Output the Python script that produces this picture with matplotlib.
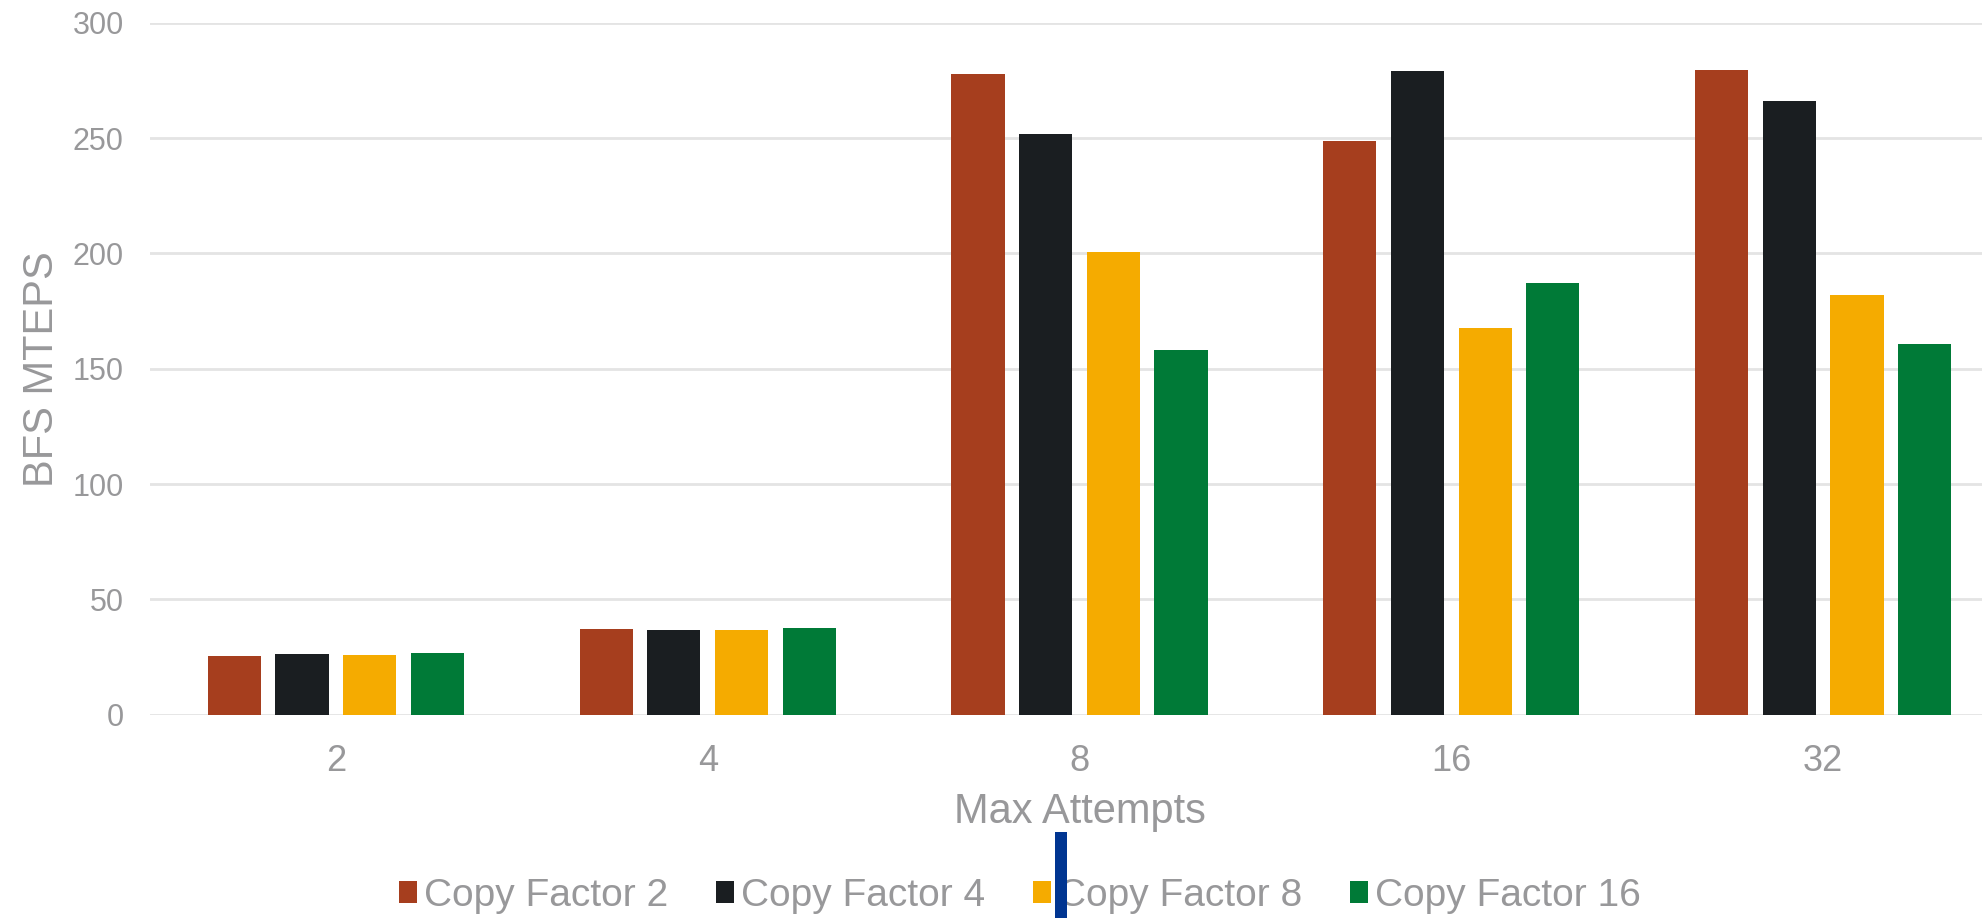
import matplotlib
matplotlib.use("Agg")
import matplotlib.pyplot as plt
from matplotlib.patches import Patch, Rectangle
import numpy as np

plt.rcParams['font.family'] = ['Liberation Sans', 'DejaVu Sans']

# Data
max_attempts = ["2", "4", "8", "16", "32"]
series_names = ["Copy Factor 2", "Copy Factor 4", "Copy Factor 8", "Copy Factor 16"]
cf2 = [25.4, 37.2, 278.0, 248.8, 279.4]
cf4 = [26.3, 36.8, 251.9, 279.3, 266.2]
cf8 = [26.0, 36.5, 200.6, 167.8, 181.9]
cf16 = [26.5, 37.4, 158.1, 187.2, 160.9]
y_ticks = [0, 50, 100, 150, 200, 250, 300]

series = [cf2, cf4, cf8, cf16]
colors = ["#A63E1E", "#1A1E21", "#F5AB00", "#007A37"]
text_gray = "#98989A"
grid_gray = "#E4E4E4"

W, H = 1983, 918
fig = plt.figure(figsize=(W / 100, H / 100), dpi=100)
ax = fig.add_axes([150 / W, (H - 714.6) / H, 1859 / W, (714.6 - 22.8) / H])

x = np.arange(len(max_attempts))
pitch = 0.182
width = 0.143
for i, (vals, col) in enumerate(zip(series, colors)):
    ax.bar(x + (i - 1.5) * pitch, vals, width=width, color=col, zorder=3,
           label=series_names[i])

ax.set_xlim(-0.5, 4.5)
ax.set_ylim(0, 300)
ax.set_yticks(y_ticks)
ax.set_xticks(x)
ax.set_xticklabels(max_attempts)
ax.yaxis.grid(True, color=grid_gray, linewidth=2, zorder=0)
ax.set_axisbelow(True)
for s in ax.spines.values():
    s.set_visible(False)
ax.tick_params(axis='both', length=0, colors=text_gray)
ax.tick_params(axis='y', labelsize=22, pad=19)
ax.tick_params(axis='x', labelsize=26, pad=21)

ax.set_xlabel("Max Attempts", fontsize=30, color=text_gray, va='center')
ax.xaxis.set_label_coords(0.5, -(812 - 714.6) / (714.6 - 22.8))
ax.set_ylabel("BFS MTEPS", fontsize=30, color=text_gray, va='center')
ax.yaxis.set_label_coords(-(150 - 42) / 1859, 0.5)

handles = [Patch(facecolor=c, edgecolor='none') for c in colors]
fig.legend(handles, series_names, loc='center', bbox_to_anchor=(1020 / W, (H - 896) / H),
           ncol=4, frameon=False, fontsize=28, labelcolor=text_gray,
           handlelength=0.48, handleheight=0.48, handletextpad=0.18,
           columnspacing=1.21, borderaxespad=0)

# Vertical marker near the legend
fig.patches.append(Rectangle((1055 / W, 0), 12 / W, (H - 832) / H,
                             transform=fig.transFigure, facecolor="#003591",
                             edgecolor='none', zorder=10))

fig.savefig("out.png", dpi=100)
